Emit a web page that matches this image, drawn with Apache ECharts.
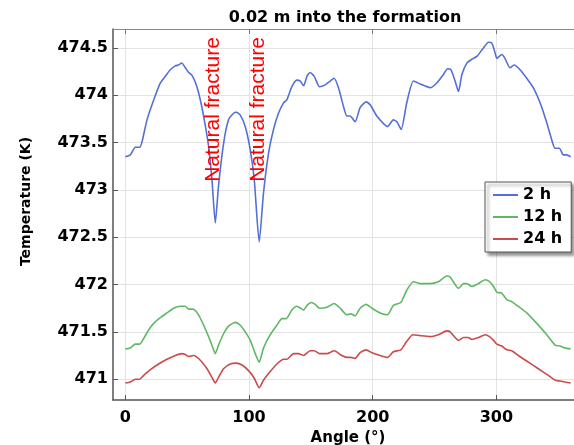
<!DOCTYPE html>
<html>
<head>
<meta charset="utf-8">
<title>0.02 m into the formation</title>
<script src="https://cdn.jsdelivr.net/npm/echarts@6/dist/echarts.min.js"></script>
<style>
  html, body { margin: 0; padding: 0; background: #fff; }
  #chart { width: 574px; height: 445px; }
</style>
</head>
<body>
<div id="chart"></div>
<script>
// angle (deg), temperature (K)
var temp2h = [
  [0, 473.35], [4, 473.37], [8, 473.45], [11.6, 473.45], [13.5, 473.51], [17.5, 473.74],
  [22.9, 473.95], [28.3, 474.13], [32.3, 474.2], [36.3, 474.27], [40.4, 474.31], [43, 474.32],
  [45.6, 474.34], [48.5, 474.29], [51.2, 474.24], [53.9, 474.21], [57.3, 474.11], [60.6, 473.95],
  [63.8, 473.74], [67.3, 473.46], [70, 473.11], [72.7, 472.65], [75.3, 473.04], [79.4, 473.49],
  [83.4, 473.74], [87.5, 473.81], [89.7, 473.82], [92.9, 473.79], [96.9, 473.67], [101, 473.42],
  [104.2, 473.11], [108.2, 472.45], [111.7, 472.97], [115.8, 473.39], [119.8, 473.64], [123.8, 473.81],
  [127.9, 473.92], [130.5, 473.95], [134.6, 474.09], [138.6, 474.16], [141.4, 474.15], [144.1, 474.1],
  [146.8, 474.2], [149.4, 474.24], [152.7, 474.2], [157, 474.09], [161.6, 474.11], [165.6, 474.15],
  [168.8, 474.18], [172.3, 474.08], [176.4, 473.88], [179.1, 473.78], [181.7, 473.78], [185.8, 473.72],
  [189.8, 473.87], [194.7, 473.93], [197.9, 473.9], [203.3, 473.78], [208.7, 473.7], [211.9, 473.67],
  [216.7, 473.74], [219.5, 473.72], [223, 473.64], [227.5, 473.92], [232.9, 474.15], [238.3, 474.12],
  [246.4, 474.08], [251.8, 474.13], [257.2, 474.22], [260.5, 474.28], [263.2, 474.27], [266.6, 474.15],
  [269.3, 474.04], [272.1, 474.22], [276.1, 474.34], [280.1, 474.38], [284.2, 474.41], [289.5, 474.5],
  [293.6, 474.56], [296.3, 474.55], [298.9, 474.45], [300.3, 474.39], [304.3, 474.43], [306.9, 474.39],
  [311, 474.29], [314.2, 474.32], [319.1, 474.27], [324.5, 474.18], [329.8, 474.08], [335.3, 473.92],
  [340.7, 473.71], [344.7, 473.53], [347.4, 473.44], [350.9, 473.44], [354.1, 473.37], [356.8, 473.37],
  [360, 473.35]
];

var temp12h = [
  [0, 471.32], [4, 471.33], [8, 471.37], [11.6, 471.37], [14.8, 471.43], [18.8, 471.52],
  [22.9, 471.59], [28.3, 471.65], [33.6, 471.7], [39, 471.75], [44.4, 471.77], [48.5, 471.77],
  [51.2, 471.74], [54.6, 471.74], [59.2, 471.68], [63.3, 471.57], [67.3, 471.45], [70.8, 471.33],
  [72.7, 471.27], [75.3, 471.36], [79.4, 471.48], [83.4, 471.56], [88.8, 471.6], [92.9, 471.57],
  [96.9, 471.5], [101, 471.41], [105, 471.27], [108.2, 471.18], [111.7, 471.33], [117.1, 471.47],
  [122.5, 471.57], [126.6, 471.64], [130.1, 471.64], [134.6, 471.73], [138.6, 471.77], [141.8, 471.75],
  [144.1, 471.73], [146.8, 471.78], [150.3, 471.81], [153.5, 471.79], [157, 471.75], [162.9, 471.76],
  [168.8, 471.8], [173.6, 471.75], [179.1, 471.68], [182.3, 471.69], [185.8, 471.67], [189.8, 471.75],
  [194.7, 471.79], [199.3, 471.75], [206, 471.7], [211.9, 471.68], [216.7, 471.78], [222.7, 471.81],
  [227.5, 471.94], [232.9, 472.03], [238.3, 472.01], [246.4, 472.01], [253.1, 472.03], [259.9, 472.09],
  [262.6, 472.08], [269.3, 471.96], [273.4, 472.01], [276.1, 472.01], [280.1, 471.98], [285.5, 472.01],
  [290.9, 472.05], [294.4, 472.03], [297.7, 471.98], [300.3, 471.92], [304.3, 471.91], [308.4, 471.84],
  [312.4, 471.82], [316.5, 471.78], [324.5, 471.7], [332.6, 471.59], [340.7, 471.47], [347.4, 471.36],
  [351.4, 471.35], [355.4, 471.33], [360, 471.32]
];

var temp24h = [
  [0, 470.96], [4, 470.97], [8, 471.0], [11.6, 471.0], [14.8, 471.04], [20.2, 471.1],
  [26.9, 471.16], [33.6, 471.21], [40.4, 471.25], [45.8, 471.27], [48.5, 471.26], [51.2, 471.24],
  [55.2, 471.25], [60.6, 471.2], [66, 471.11], [70, 471.02], [72.7, 470.96], [75.3, 471.02],
  [79.4, 471.11], [84.8, 471.16], [89.7, 471.17], [94.3, 471.15], [99.6, 471.09], [104.2, 471.01],
  [108.2, 470.91], [111.7, 470.99], [117.1, 471.08], [122.5, 471.16], [127.9, 471.21], [130.5, 471.21],
  [136, 471.27], [140, 471.27], [144.1, 471.25], [149.4, 471.3], [152.7, 471.3], [157, 471.27],
  [162.9, 471.27], [168.8, 471.3], [175, 471.25], [179.1, 471.23], [182.3, 471.23], [185.8, 471.22],
  [189.8, 471.28], [194.7, 471.31], [199.3, 471.28], [206, 471.25], [211.9, 471.23], [216.7, 471.29],
  [222.7, 471.31], [227.5, 471.4], [232.4, 471.47], [238.3, 471.46], [246.4, 471.45], [253.1, 471.47],
  [259.9, 471.51], [262.6, 471.5], [269.3, 471.41], [273.4, 471.44], [277, 471.44], [280.1, 471.42],
  [285.5, 471.44], [290.9, 471.47], [294.4, 471.45], [297.7, 471.41], [300.3, 471.37], [304.3, 471.35],
  [308.4, 471.31], [312.4, 471.3], [317.7, 471.25], [325.8, 471.18], [333.9, 471.11], [342, 471.04],
  [347.4, 470.99], [351.4, 470.98], [355.4, 470.97], [360, 470.96]
];

var seriesNames = ["2 h", "12 h", "24 h"];
var xTicks = [0, 100, 200, 300];
var yTicks = [471, 471.5, 472, 472.5, 473, 473.5, 474, 474.5];
// where the "Natural fracture" notes sit: [angle, temperature]
var fractureNotes = [[71.1, 473.85], [107.4, 473.85]];

var boldFont = "DejaVu Sans";

var chart = echarts.init(document.getElementById("chart"), null, { renderer: "canvas" });

var option = {
  backgroundColor: "#fff",
  animation: false,
  title: {
    text: "0.02 m into the formation",
    left: 340,
    top: 5,
    textAlign: "center",
    textStyle: { fontFamily: boldFont, fontWeight: "bold", fontSize: 16, color: "#000" }
  },
  legend: {
    data: seriesNames,
    orient: "vertical",
    left: 485,
    top: 182,
    padding: [5, 9, 5, 8],
    itemGap: 6,
    itemWidth: 25,
    itemHeight: 2,
    icon: "rect",
    backgroundColor: "#fff",
    borderColor: "#555",
    borderWidth: 1,
    shadowColor: "rgba(0,0,0,0.45)",
    shadowBlur: 3,
    shadowOffsetX: 3,
    shadowOffsetY: 3,
    textStyle: { fontFamily: boldFont, fontWeight: "bold", fontSize: 16, color: "#000" }
  },
  grid: { left: 113, top: 29, width: 470, height: 371, outerBoundsMode: "none", containLabel: false },
  xAxis: [
    {
      type: "value",
      min: -10,
      max: 370,
      name: "Angle (°)",
      nameLocation: "middle",
      nameGap: 31,
      nameTextStyle: { fontFamily: boldFont, fontWeight: "bold", fontSize: 15, color: "#000" },
      axisLine: { show: true, onZero: false, lineStyle: { color: "#555", width: 1.5 } },
      axisTick: { show: true, inside: true, length: 5, customValues: xTicks, lineStyle: { color: "#555" } },
      axisLabel: {
        customValues: xTicks,
        margin: 10,
        fontFamily: boldFont, fontWeight: "bold", fontSize: 16, color: "#000"
      },
      splitLine: { show: true, lineStyle: { color: "#e3e3e3", width: 1 } }
    },
    {
      type: "value",
      position: "top",
      min: -10,
      max: 370,
      axisLine: { show: true, onZero: false, lineStyle: { color: "#888", width: 1 } },
      axisTick: { show: true, inside: true, length: 5, customValues: xTicks, lineStyle: { color: "#777" } },
      axisLabel: { show: false },
      splitLine: { show: false }
    }
  ],
  yAxis: {
    type: "value",
    min: 470.78,
    max: 474.7,
    name: "Temperature (K)",
    nameLocation: "middle",
    nameGap: 80,
    nameTextStyle: { fontFamily: boldFont, fontWeight: "bold", fontSize: 14, color: "#000", padding: [0, 0, 0, 26] },
    axisLine: { show: true, onZero: false, lineStyle: { color: "#555", width: 1.5 } },
    axisTick: { show: true, inside: true, length: 5, customValues: yTicks, lineStyle: { color: "#555" } },
    axisLabel: {
      customValues: yTicks,
      margin: 5,
      fontFamily: boldFont, fontWeight: "bold", fontSize: 16, color: "#000"
    },
    splitLine: { show: true, lineStyle: { color: "#e3e3e3", width: 1 } }
  },
  series: [
    {
      name: seriesNames[0],
      type: "line",
      data: temp2h,
      showSymbol: false,
      symbol: "none",
      smooth: 0.2,
      color: "#5470d6",
      lineStyle: { width: 1.6 },
      z: 3,
      markPoint: {
        symbol: "circle",
        symbolSize: 0,
        silent: true,
        label: {
          show: true,
          formatter: "Natural fracture",
          position: "inside",
          rotate: 90,
          color: "#ff0000",
          fontFamily: "Liberation Sans",
          fontSize: 21
        },
        data: fractureNotes.map(function (c) { return { coord: c }; })
      }
    },
    {
      name: seriesNames[1],
      type: "line",
      data: temp12h,
      showSymbol: false,
      symbol: "none",
      smooth: 0.2,
      color: "#5fb865",
      lineStyle: { width: 1.6 }
    },
    {
      name: seriesNames[2],
      type: "line",
      data: temp24h,
      showSymbol: false,
      symbol: "none",
      smooth: 0.2,
      color: "#cc4a4a",
      lineStyle: { width: 1.6 }
    }
  ]
};

chart.setOption(option);
</script>
</body>
</html>
